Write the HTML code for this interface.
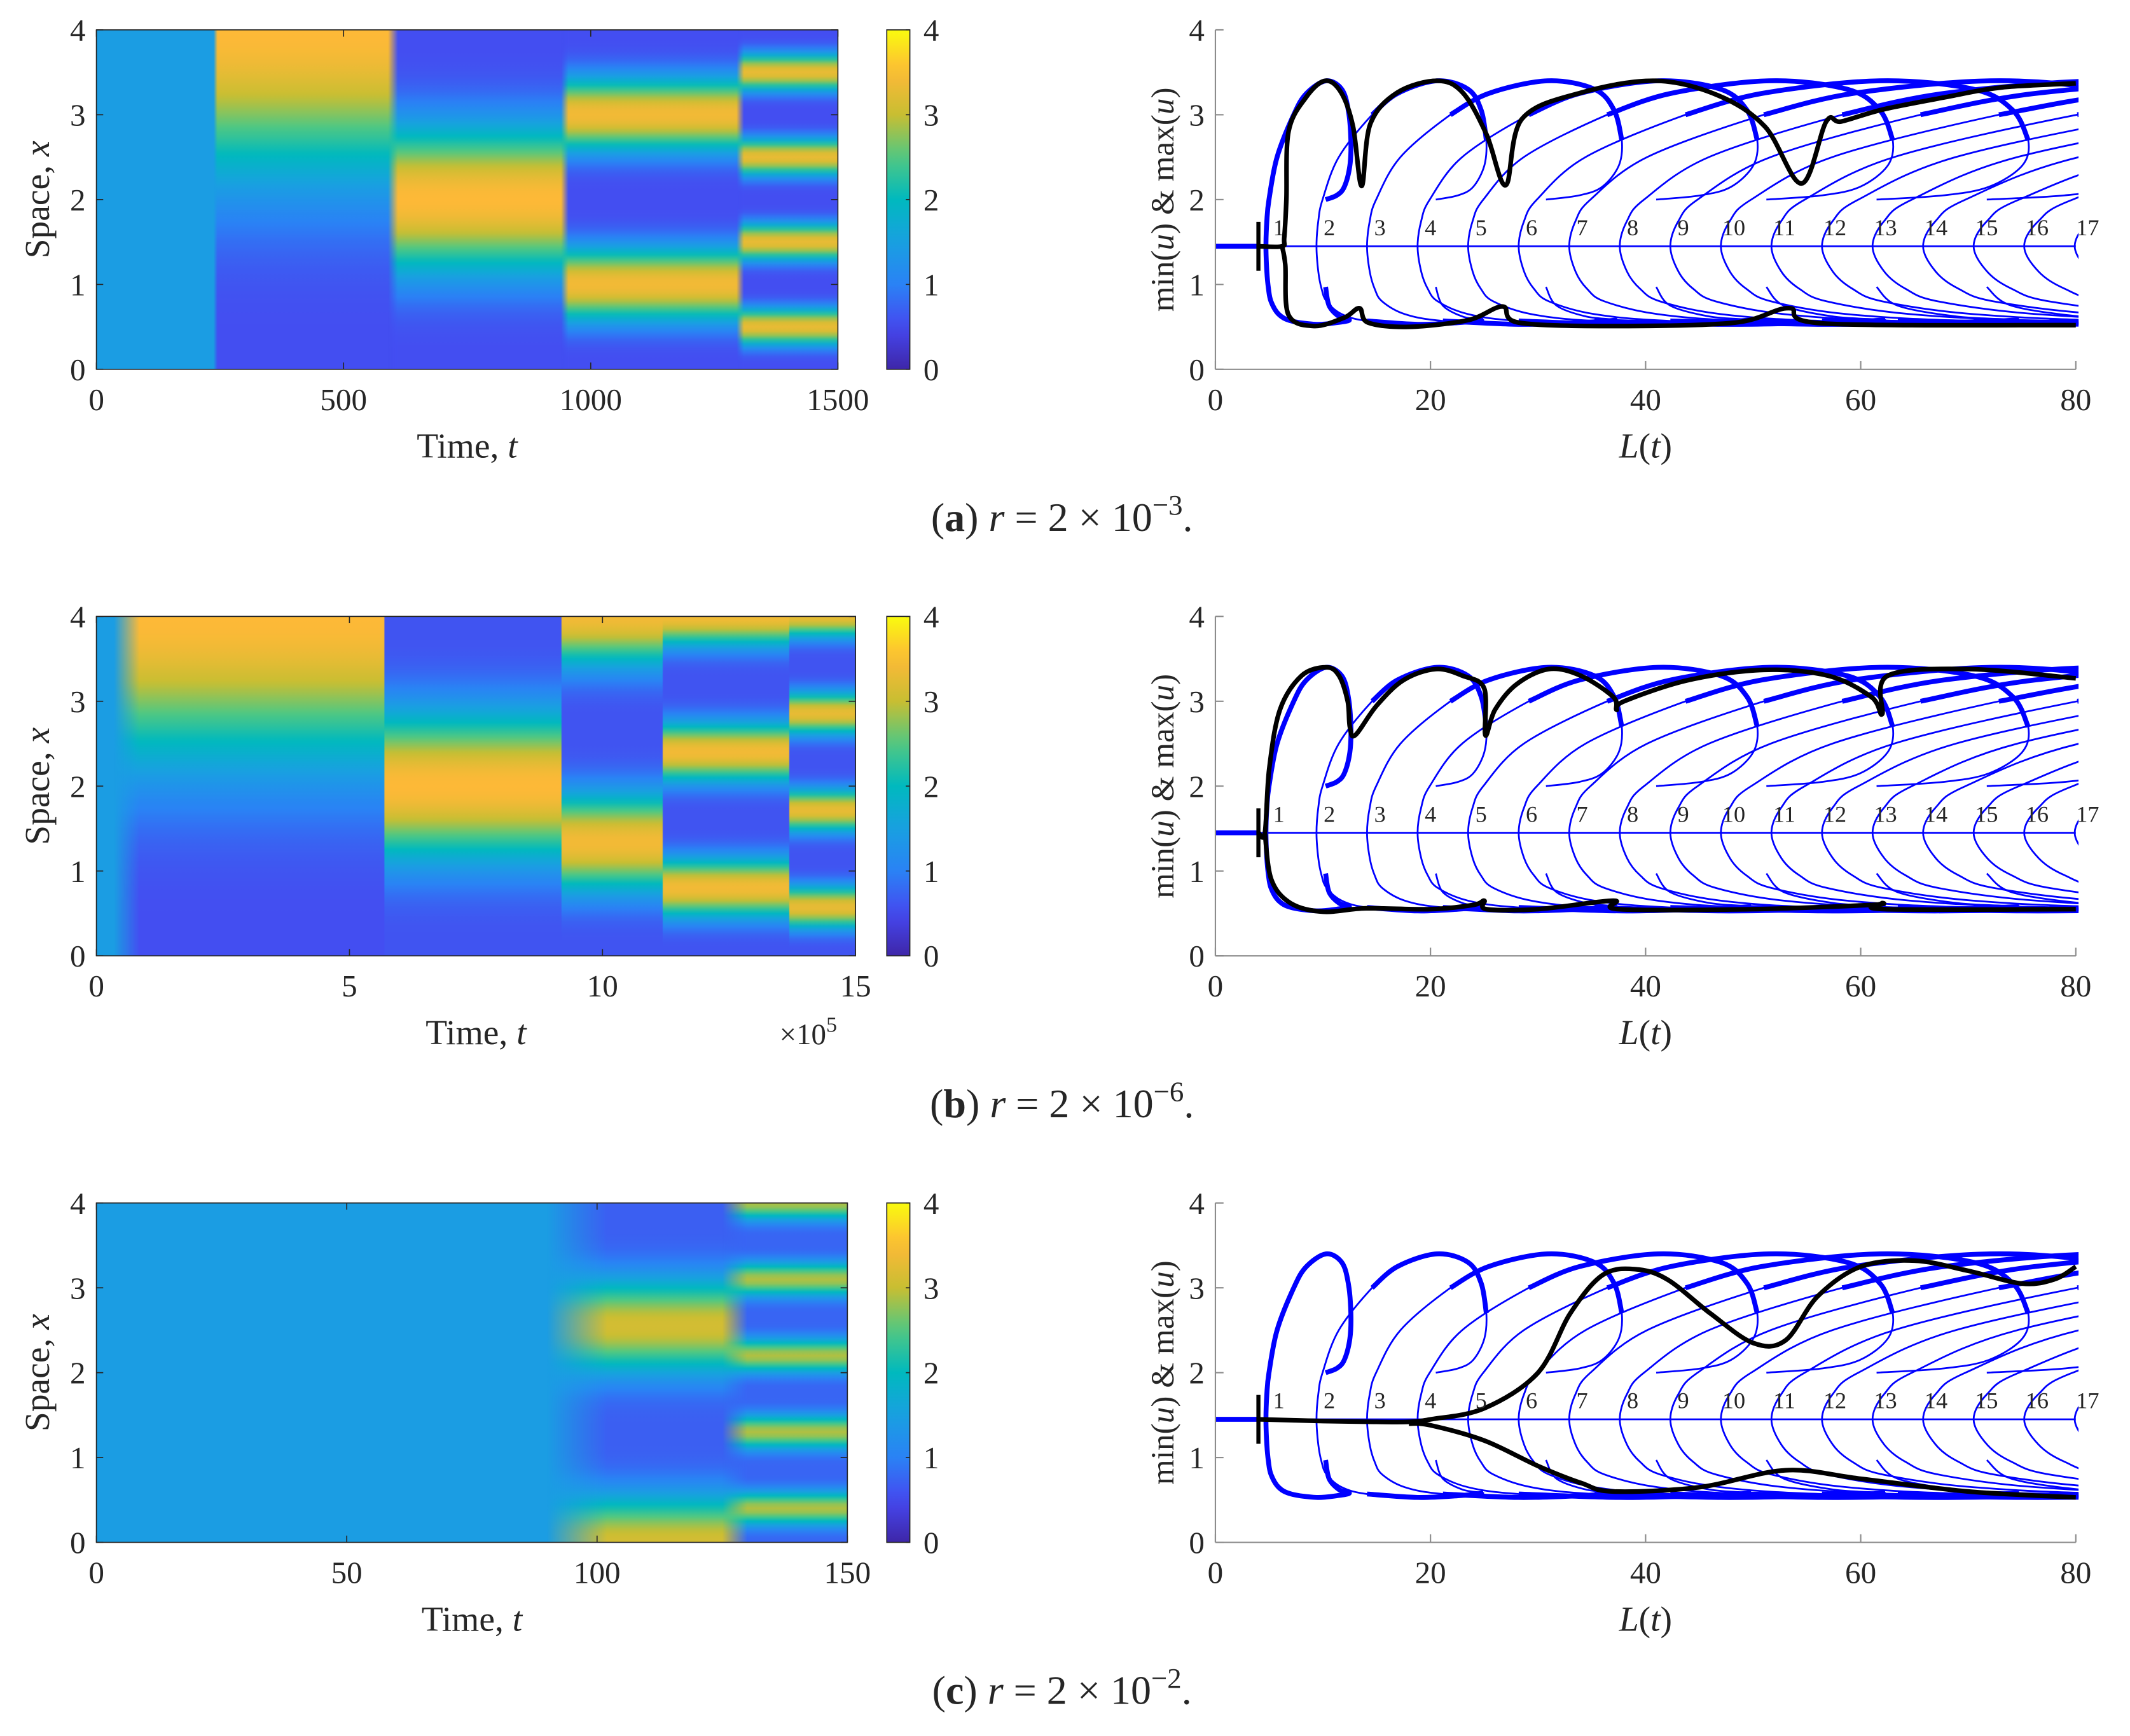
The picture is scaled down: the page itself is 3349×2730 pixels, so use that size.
<!DOCTYPE html>
<html><head><meta charset="utf-8">
<style>
html,body{margin:0;padding:0;background:#fff;}
svg{display:block;}
text{font-family:"Liberation Serif",serif;fill:#262626;}
</style></head>
<body>
<svg id="fig" xmlns="http://www.w3.org/2000/svg" width="3349" height="2730" viewBox="0 0 1568.5 1278.6">
<defs id="defs"></defs>
<g id="root"></g>
</svg>
<script>
// ---------- heatmap data (per panel) ----------
const hmTmax = [1500, 15, 150];
const hmTicks = [[0,500,1000,1500],[0,5,10,15],[0,50,100,150]];
// panel a segments
const aStart = [0,245,610,955,1310];
const aEnd   = [245,610,955,1310,1500];
const aPeriod= [8,8,4,2,1];
const aPhase = [4,4,2,1,0.5];
const aMax   = [1.45,3.5,3.5,3.4,3.3];
const aMin   = [1.45,0.55,0.55,0.55,0.55];
const aFade  = [0,8,20,15,15];
// panel b segments (t in 1e5)
const bStart = [0,0.85,5.7,9.2,11.2,13.7];
const bEnd   = [0.85,5.7,9.2,11.2,13.7,15];
const bPeriod= [8,8,4,2.667,1.6,1.143];
const bPhase = [4,4,2,4,0.8,4];
const bMax   = [1.45,3.5,3.5,3.4,3.4,3.3];
const bMin   = [1.45,0.55,0.6,0.6,0.6,0.6];
const bFade  = [0,0.5,0.02,0.02,0.02,0.02];
// panel c segments
const cStart = [0,102,130];
const cEnd   = [102,130,150];
const cPeriod= [8,2.55,0.9];
const cPhase = [0,0,4];
const cMax   = [1.45,3.1,2.9];
const cMin   = [1.45,0.7,0.75];
const cFade  = [0,12,5];

// ---------- bifurcation diagram data ----------
const branchCount = 17;
const branchSpacing = 4.7;
const upperR = [1,1.018,1.06,1.22,1.55,1.8,2.19,2.5,2.63,2.68,2.66,2.55,2.4,2.18];
const upperU = [1.45,1.75,2.0,2.5,3.0,3.25,3.4,3.3,3.05,2.7,2.4,2.15,2.05,2.0];
const lowerR = [1,1.018,1.05,1.1,1.25,1.5,2.0,2.4,2.65,2.45,2.25,2.18];
const lowerU = [1.45,1.15,0.95,0.8,0.65,0.57,0.53,0.55,0.58,0.62,0.75,0.97];
const homogU = 1.45;
const startL = 4.0;
// black trajectories
const trajAUL = [4.0,6.2,6.4,6.6,6.8,8.4,10.2,11.7,12.8,13.6,14.4,16.9,20.6,23,25.2,27,28.5,34,40.9,46.7,51.1,54.5,56.8,58.2,62,67.6,73,80];
const trajAUU = [1.45,1.45,1.55,2.0,2.8,3.2,3.4,3.26,2.86,2.16,2.89,3.26,3.4,3.26,2.77,2.17,2.95,3.26,3.4,3.23,2.86,2.19,2.92,2.92,3.06,3.2,3.32,3.37];
const trajALL = [6.2,6.5,6.8,9.2,12,13.4,14.2,18,23.5,26.7,28.2,37.3,48.3,53.3,56.6,80];
const trajALU = [1.45,1.23,0.64,0.51,0.61,0.72,0.55,0.5,0.58,0.74,0.55,0.51,0.55,0.72,0.54,0.52];
const trajBUL = [4.0,4.6,5.0,6,8,10.3,11.5,12.3,12.5,13,15,17.5,20.5,23,25,25.1,26,28,31,34,37,37.3,38,44,51,57,61,62,62.5,70,80];
const trajBUU = [1.45,1.45,2.2,2.9,3.3,3.4,3.3,3.0,2.7,2.6,2.95,3.25,3.38,3.3,3.15,2.6,2.9,3.2,3.38,3.3,3.05,2.9,3.0,3.25,3.37,3.3,3.05,2.85,3.3,3.38,3.27];
const trajBLL = [4.6,5.2,7,10,14,20,24,25,25.2,30,37,37.5,50,61,62,62.3,80];
const trajBLU = [1.45,0.9,0.62,0.52,0.56,0.55,0.6,0.65,0.55,0.55,0.65,0.55,0.55,0.6,0.62,0.55,0.55];
const trajCUL = [4.0,10,15,18,20,25,30,33,36,39,42,46,50,53,56,60,65,70,75,78,80];
const trajCUU = [1.45,1.43,1.42,1.42,1.45,1.58,2.0,2.7,3.15,3.22,3.1,2.7,2.35,2.38,2.9,3.25,3.32,3.2,3.05,3.1,3.25];
const trajCLL = [18,20,25,30,34,37,45,53,60,70,80];
const trajCLU = [1.40,1.38,1.2,0.9,0.7,0.6,0.65,0.85,0.75,0.6,0.53];

const yTicks = [0,1,2,3,4];
const lTicks = [0,20,40,60,80];
const captionLetters = ['a','b','c'];
const captionExp = ['−3','−6','−2'];

// ---------- helpers ----------
const NS = 'http://www.w3.org/2000/svg';
const root = document.getElementById('root');
const defs = document.getElementById('defs');
function mk(tag, attrs, parent){
  const e = document.createElementNS(NS, tag);
  for (const k in attrs) e.setAttribute(k, attrs[k]);
  (parent||root).appendChild(e);
  return e;
}
const parStops = [[0,[62,38,168]],[0.125,[70,72,240]],[0.25,[42,130,245]],[0.375,[25,160,225]],[0.5,[0,185,190]],[0.625,[80,200,130]],[0.75,[200,190,50]],[0.875,[253,185,55]],[1,[249,251,14]]];
function parula(t){
  t=Math.max(0,Math.min(1,t));
  for(let i=1;i<parStops.length;i++){
    if(t<=parStops[i][0]){
      const a=parStops[i-1],b=parStops[i];const f=(t-a[0])/(b[0]-a[0]);
      const c=a[1].map((v,j)=>Math.round(v+(b[1][j]-v)*f));
      return 'rgb('+c.join(',')+')';
    }
  }
  return 'rgb(249,251,14)';
}
function smoothPath(pts){
  if(pts.length<2) return '';
  let d='M'+pts[0][0].toFixed(2)+','+pts[0][1].toFixed(2);
  for(let i=0;i<pts.length-1;i++){
    const p0=pts[Math.max(0,i-1)],p1=pts[i],p2=pts[i+1],p3=pts[Math.min(pts.length-1,i+2)];
    const c1=[p1[0]+(p2[0]-p0[0])/6,p1[1]+(p2[1]-p0[1])/6];
    const c2=[p2[0]-(p3[0]-p1[0])/6,p2[1]-(p3[1]-p1[1])/6];
    d+='C'+c1[0].toFixed(2)+','+c1[1].toFixed(2)+' '+c2[0].toFixed(2)+','+c2[1].toFixed(2)+' '+p2[0].toFixed(2)+','+p2[1].toFixed(2);
  }
  return d;
}
let gid=0;

const panelTop = [22,454,886];
const hmLeft = 71;
const hmRight = [617,630,624];
const PH = 250;
const segs = [
  [aStart,aEnd,aPeriod,aPhase,aMax,aMin,aFade],
  [bStart,bEnd,bPeriod,bPhase,bMax,bMin,bFade],
  [cStart,cEnd,cPeriod,cPhase,cMax,cMin,cFade]];
const trajs = [[trajAUL,trajAUU,trajALL,trajALU],[trajBUL,trajBUU,trajBLL,trajBLU],[trajCUL,trajCUU,trajCLL,trajCLU]];

function profile(x,period,phase,mx,mn){
  if(mx===mn) return mx;
  let d=((x-phase)%period+period)%period; d=Math.min(d,period-d);
  const g=Math.pow((1+Math.cos(Math.PI*d/(period/2)))/2,2);
  return mn+(mx-mn)*g;
}

for(let p=0;p<3;p++){
  const top=panelTop[p], bot=top+PH, R=hmRight[p];
  const tx=t=>hmLeft+(t/hmTmax[p])*(R-hmLeft);
  const yx=x=>bot-(x/4)*PH;
  const hm=mk('g',{});
  
  
  const cp=mk('clipPath',{id:'hmclip'+p},defs);
  mk('rect',{x:hmLeft,y:top,width:R-hmLeft,height:PH},cp);
  const hg=mk('g',{'clip-path':'url(#hmclip'+p+')'},hm);
  const [S,E,P,PHs,MX,MN,FD]=segs[p];
  for(let i=0;i<S.length;i++){
    const id='g'+(gid++);
    const lg=mk('linearGradient',{id:id,x1:0,y1:0,x2:0,y2:1},defs);
    const N=80;
    for(let k=0;k<=N;k++){
      const xv=4-4*k/N;
      mk('stop',{offset:(k/N).toFixed(4),'stop-color':parula(profile(xv,P[i],PHs[i],MX[i],MN[i])/4)},lg);
    }
    const x0=tx(S[i]-FD[i]), x1=tx(E[i]);
    const attrs={x:x0,y:top,width:Math.max(0.1,x1-x0),height:PH,fill:'url(#'+id+')'};
    if(FD[i]>0){
      const mid='m'+(gid++);
      const mg=mk('linearGradient',{id:mid+'g',x1:0,y1:0,x2:1,y2:0},defs);
      const f=(tx(S[i])-x0)/(x1-x0);
      mk('stop',{offset:0,'stop-color':'#fff','stop-opacity':0},mg);
      mk('stop',{offset:f.toFixed(4),'stop-color':'#fff','stop-opacity':1},mg);
      mk('stop',{offset:1,'stop-color':'#fff','stop-opacity':1},mg);
      const m=mk('mask',{id:mid,maskContentUnits:'userSpaceOnUse'},defs);
      mk('rect',{x:x0,y:top,width:x1-x0,height:PH,fill:'url(#'+mid+'g)'},m);
      attrs.mask='url(#'+mid+')';
    }
    const r=mk('rect',attrs,hg);
    
    
  }
  mk('rect',{x:hmLeft,y:top,width:R-hmLeft,height:PH,fill:'none',stroke:'#262626','stroke-width':0.8},hm);
  hmTicks[p].forEach(t=>{
    mk('line',{x1:tx(t),x2:tx(t),y1:bot,y2:bot-5,stroke:'#262626','stroke-width':0.8},hm);
    mk('line',{x1:tx(t),x2:tx(t),y1:top,y2:top+5,stroke:'#262626','stroke-width':0.8},hm);
    const l=mk('text',{x:tx(t),y:bot+30,'font-size':23,'text-anchor':'middle'},hm);
    l.textContent=t;
    
    
  });
  yTicks.forEach(v=>{
    mk('line',{x1:hmLeft,x2:hmLeft+5,y1:yx(v),y2:yx(v),stroke:'#262626','stroke-width':0.8},hm);
    mk('line',{x1:R,x2:R-5,y1:yx(v),y2:yx(v),stroke:'#262626','stroke-width':0.8},hm);
    const l=mk('text',{x:hmLeft-8,y:yx(v)+8,'font-size':23,'text-anchor':'end'},hm);
    l.textContent=v;
    
    
  });
  const xt=mk('text',{x:(hmLeft+R)/2,y:bot+65,'font-size':26,'text-anchor':'middle'},hm);
  xt.innerHTML='Time, <tspan font-style="italic">t</tspan>';
  
  
  const yt=mk('text',{x:0,y:0,'font-size':26,'text-anchor':'middle',transform:'translate(36,'+(top+PH/2)+') rotate(-90)'},hm);
  yt.innerHTML='Space, <tspan font-style="italic">x</tspan>';
  
  
  if(p===1){
    const sc=mk('text',{x:574,y:bot+65,'font-size':22},hm);
    sc.innerHTML='×10<tspan font-size="16" dy="-9">5</tspan>';
    
    
  }
  const cb=mk('g',{},hm);
  
  
  const cid='cb'+p;
  const cg=mk('linearGradient',{id:cid,x1:0,y1:1,x2:0,y2:0},defs);
  for(let k=0;k<=20;k++) mk('stop',{offset:k/20,'stop-color':parula(k/20)},cg);
  mk('rect',{x:653,y:top,width:17,height:PH,fill:'url(#'+cid+')',stroke:'#262626','stroke-width':0.8},cb);
  yTicks.forEach(v=>{
    mk('line',{x1:670,x2:667,y1:yx(v),y2:yx(v),stroke:'#262626','stroke-width':0.8},cb);
    const l=mk('text',{x:680,y:yx(v)+8,'font-size':23},cb);
    l.textContent=v;
    
    
  });

  // ---------- bifurcation plot ----------
  const X0=895, X1=1528.6;
  const lx=L=>X0+(L/80)*(X1-X0);
  const uy=u=>bot-(u/4)*PH;
  const bf=mk('g',{});
  
  
  const bcp=mk('clipPath',{id:'bfclip'+p},defs);
  mk('rect',{x:X0,y:top-5,width:X1-X0+2,height:PH+5},bcp);
  const bg=mk('g',{'clip-path':'url(#bfclip'+p+')'},bf);
  const h1=mk('line',{x1:lx(0),x2:lx(startL),y1:uy(homogU),y2:uy(homogU),stroke:'#0000ff','stroke-width':3.6},bg);
  
  
  const h2=mk('line',{x1:lx(startL),x2:lx(80),y1:uy(homogU),y2:uy(homogU),stroke:'#0000ff','stroke-width':1.3},bg);
  
  
  for(let k=1;k<=branchCount;k++){
    const Lk=branchSpacing*k;
    const up=upperR.map((r,i)=>[lx(Lk*r),uy(upperU[i])]);
    const lo=lowerR.map((r,i)=>[lx(Lk*r),uy(lowerU[i])]);
    const whole=lo.slice().reverse().concat(up.slice(1));
    const thin=k===1?3.6:1.3;
    const e=mk('path',{d:smoothPath(whole),fill:'none',stroke:'#0000ff','stroke-width':thin},bg);
    
    
    if(k>1){
      const tu=mk('path',{d:smoothPath(up.slice(4,10)),fill:'none',stroke:'#0000ff','stroke-width':3.6},bg);
      
      
      const tl=mk('path',{d:smoothPath(lo.slice(5,9)),fill:'none',stroke:'#0000ff','stroke-width':3.6},bg);
      
      
    }
    const bl=mk('text',{x:lx(Lk+1.2),y:uy(1.58),'font-size':17,'text-anchor':'middle',fill:'#000'},bf);
    bl.textContent=k;
    
    
  }
  const [UL,UU,LL,LU]=trajs[p];
  const tu=mk('path',{d:smoothPath(UL.map((L,i)=>[lx(L),uy(UU[i])])),fill:'none',stroke:'#000','stroke-width':3.4,'stroke-linejoin':'round'},bg);
  
  
  const tl=mk('path',{d:smoothPath(LL.map((L,i)=>[lx(L),uy(LU[i])])),fill:'none',stroke:'#000','stroke-width':3.4,'stroke-linejoin':'round'},bg);
  
  
  const tk=mk('line',{x1:lx(startL),x2:lx(startL),y1:uy(homogU)-18,y2:uy(homogU)+18,stroke:'#000','stroke-width':3},bf);
  
  
  mk('line',{x1:X0,x2:X0,y1:top,y2:bot,stroke:'#8c8c8c','stroke-width':1},bf);
  mk('line',{x1:X0,x2:X1,y1:bot,y2:bot,stroke:'#8c8c8c','stroke-width':1},bf);
  lTicks.forEach(L=>{
    mk('line',{x1:lx(L),x2:lx(L),y1:bot,y2:bot-6,stroke:'#8c8c8c','stroke-width':1},bf);
    const l=mk('text',{x:lx(L),y:bot+30,'font-size':23,'text-anchor':'middle'},bf);
    l.textContent=L;
    
    
  });
  yTicks.forEach(v=>{
    mk('line',{x1:X0,x2:X0+6,y1:uy(v),y2:uy(v),stroke:'#8c8c8c','stroke-width':1},bf);
    const l=mk('text',{x:X0-8,y:uy(v)+8,'font-size':23,'text-anchor':'end'},bf);
    l.textContent=v;
    
    
  });
  const bx=mk('text',{x:(X0+X1)/2,y:bot+65,'font-size':26,'text-anchor':'middle'},bf);
  bx.innerHTML='<tspan font-style="italic">L</tspan>(<tspan font-style="italic">t</tspan>)';
  
  
  const by=mk('text',{x:0,y:0,'font-size':24,'text-anchor':'middle',transform:'translate(864,'+(top+PH/2)+') rotate(-90)'},bf);
  by.innerHTML='min(<tspan font-style="italic">u</tspan>) &amp; max(<tspan font-style="italic">u</tspan>)';
  
  

  const cap=mk('text',{x:782,y:top+369,'font-size':30,'text-anchor':'middle',fill:'#000'});
  cap.innerHTML='(<tspan font-weight="bold">'+captionLetters[p]+'</tspan>) <tspan font-style="italic">r</tspan> = 2 × 10<tspan font-size="21" dy="-12">'+captionExp[p]+'</tspan><tspan dy="12">.</tspan>';
  
  
}
</script>
</body></html>
